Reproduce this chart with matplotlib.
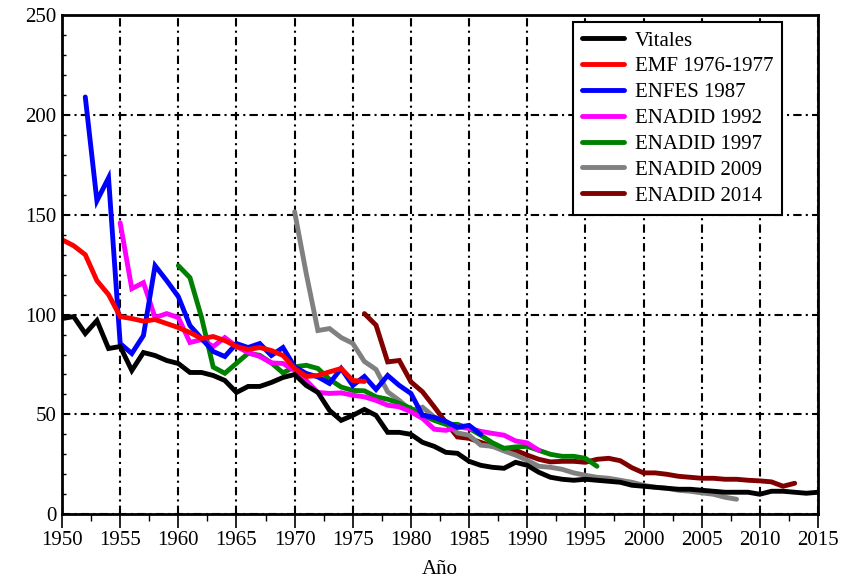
import matplotlib
matplotlib.use("Agg")
import matplotlib.pyplot as plt
from matplotlib.ticker import MultipleLocator

plt.rcParams['font.family'] = ['Liberation Serif', 'DejaVu Serif']

# Vitales 1950-2015
vit_years = list(range(1950, 2016))
vit_vals = [98, 99, 90.5, 97, 83, 84, 72, 81, 79.5, 77, 75.5, 71, 71, 69.5, 67,
            61, 64, 64, 66, 68.5, 70, 64.5, 61, 52, 47, 49.5, 52.5, 49.5, 41, 41,
            40, 36, 34, 31, 30.5, 26.5, 24.5, 23.5, 23, 26, 24.5, 21, 18.5, 17.5, 17, 17.5,
            17, 16.5, 16, 14.5, 14, 13.5, 13, 12.5, 12.5, 12, 11.5, 11, 11, 11,
            10, 11.5, 11.5, 11, 10.5, 11]

# EMF 1976-1977, 1950-1976
emf_years = list(range(1950, 1977))
emf_vals = [137.5, 134.5, 130, 117, 110, 99, 98, 96.7, 97.5, 95.5, 93.5, 91, 88, 89,
            87, 84, 82.5, 83.5, 82, 79.5, 73, 69, 69.5, 71.3, 73, 67, 66.5]

# ENFES 1987, 1952-1986
enfes_years = list(range(1952, 1987))
enfes_vals = [209, 157, 168.5, 85.5, 80.5, 89.5, 124.5, 117, 109, 94.5, 88, 81.5, 79,
              85.5, 83.5, 85.5, 79.5, 83.5, 73.8, 70.5, 68.8, 65.5, 73, 64.5, 69, 62.5,
              69.5, 64.5, 60.5, 49.5, 48.5, 46.5, 43.5, 44.5, 40]

# ENADID 1992, 1955-1991
en92_years = list(range(1955, 1992))
en92_vals = [146, 113, 116, 98.5, 100.5, 98.5, 86, 87.5, 84, 88.5, 84, 81, 79, 75.8,
             75.5, 72, 67, 61, 60.5, 60.8, 59.6, 58.8, 57, 54.6, 53.8, 51.3, 48, 42.6,
             42, 43.7, 43, 41.5, 40.5, 39.6, 36.7, 35.7, 32]

# ENADID 1997, 1960-1996
en97_years = list(range(1960, 1997))
en97_vals = [124.5, 118.5, 98.5, 73.7, 70.6, 75.6, 80.6, 79.6, 75.8, 70.8, 73.8, 74.6,
             73, 67.6, 63.7, 62, 61.8, 58.8, 57.6, 55.6, 53, 49.6, 47, 45, 45, 43,
             39.6, 35.8, 33, 33.7, 34, 32, 30, 29, 29, 28, 24]

# ENADID 2009, 1970-2008
en09_years = list(range(1970, 2009))
en09_vals = [151.5, 120.5, 92, 93, 88.5, 85.6, 76.5, 72.5, 61.3, 57, 52, 53.6, 48.7, 46,
             40.7, 39.6, 34.6, 34, 31.7, 29.6, 27, 24, 23.5, 22.5, 20.7, 19.5, 18.5, 18,
             17, 16, 14.5, 13.5, 13, 12, 11.5, 10.7, 10, 8.5, 7.5]

# ENADID 2014, 1976-2013
en14_years = list(range(1976, 2014))
en14_vals = [100.5, 94.7, 76.3, 77, 66.3, 61.3, 53.8, 46, 38.7, 38, 36, 34, 33, 32,
             29.6, 27.5, 26.2, 26.5, 26.5, 26, 27.5, 28, 26.8, 23.3, 20.7, 20.7, 20, 19,
             18.5, 18, 18, 17.5, 17.5, 17, 16.7, 16.2, 14, 15.5]

series = [
    ("Vitales", vit_years, vit_vals, "black"),
    ("EMF 1976-1977", emf_years, emf_vals, "#ff0000"),
    ("ENFES 1987", enfes_years, enfes_vals, "#0000ff"),
    ("ENADID 1992", en92_years, en92_vals, "#ff00ff"),
    ("ENADID 1997", en97_years, en97_vals, "#008000"),
    ("ENADID 2009", en09_years, en09_vals, "#808080"),
    ("ENADID 2014", en14_years, en14_vals, "#800000"),
]

fig = plt.figure(figsize=(8.45, 5.83), dpi=100)
ax = fig.add_axes([0.0734, 0.118, 0.8946, 0.856])

# draw later series first so Vitales and EMF sit on top like the original
for name, xs, ys, c in reversed(series):
    ax.plot(xs, ys, color=c, lw=3.5, label=name, solid_joinstyle='miter',
            solid_capstyle='round')

ax.set_xlim(1950, 2015)
ax.set_ylim(0, 250)
ax.xaxis.set_major_locator(MultipleLocator(5))
ax.xaxis.set_minor_locator(MultipleLocator(2.5))
ax.yaxis.set_major_locator(MultipleLocator(50))
ax.yaxis.set_minor_locator(MultipleLocator(10))
ax.tick_params(axis='x', which='major', direction='out', length=10, width=1.2,
               labelsize=15, pad=2)
ax.tick_params(axis='x', which='minor', direction='out', length=5, width=1)
ax.tick_params(axis='y', which='major', direction='out', length=0, labelsize=15, pad=4)
ax.tick_params(axis='y', which='minor', direction='in', length=3, width=1)

ax.grid(True, which='major', color='black', lw=1.5, ls=(0, (4, 2, 1, 2)))
for s in ax.spines.values():
    s.set_linewidth(2)

ax.set_xlabel("Año", fontsize=15, labelpad=7)

handles, labels = ax.get_legend_handles_labels()
leg = ax.legend(handles[::-1], labels[::-1], loc='upper right',
                bbox_to_anchor=(0.953, 0.987), borderaxespad=0,
                fontsize=15, fancybox=False, framealpha=1, edgecolor='black',
                handlelength=2.0, handletextpad=0.5, labelspacing=0.3,
                borderpad=0.45)
leg.get_frame().set_linewidth(1.5)
for ln in leg.get_lines():
    ln.set_linewidth(3.5)

fig.savefig("out.png", dpi=100)
